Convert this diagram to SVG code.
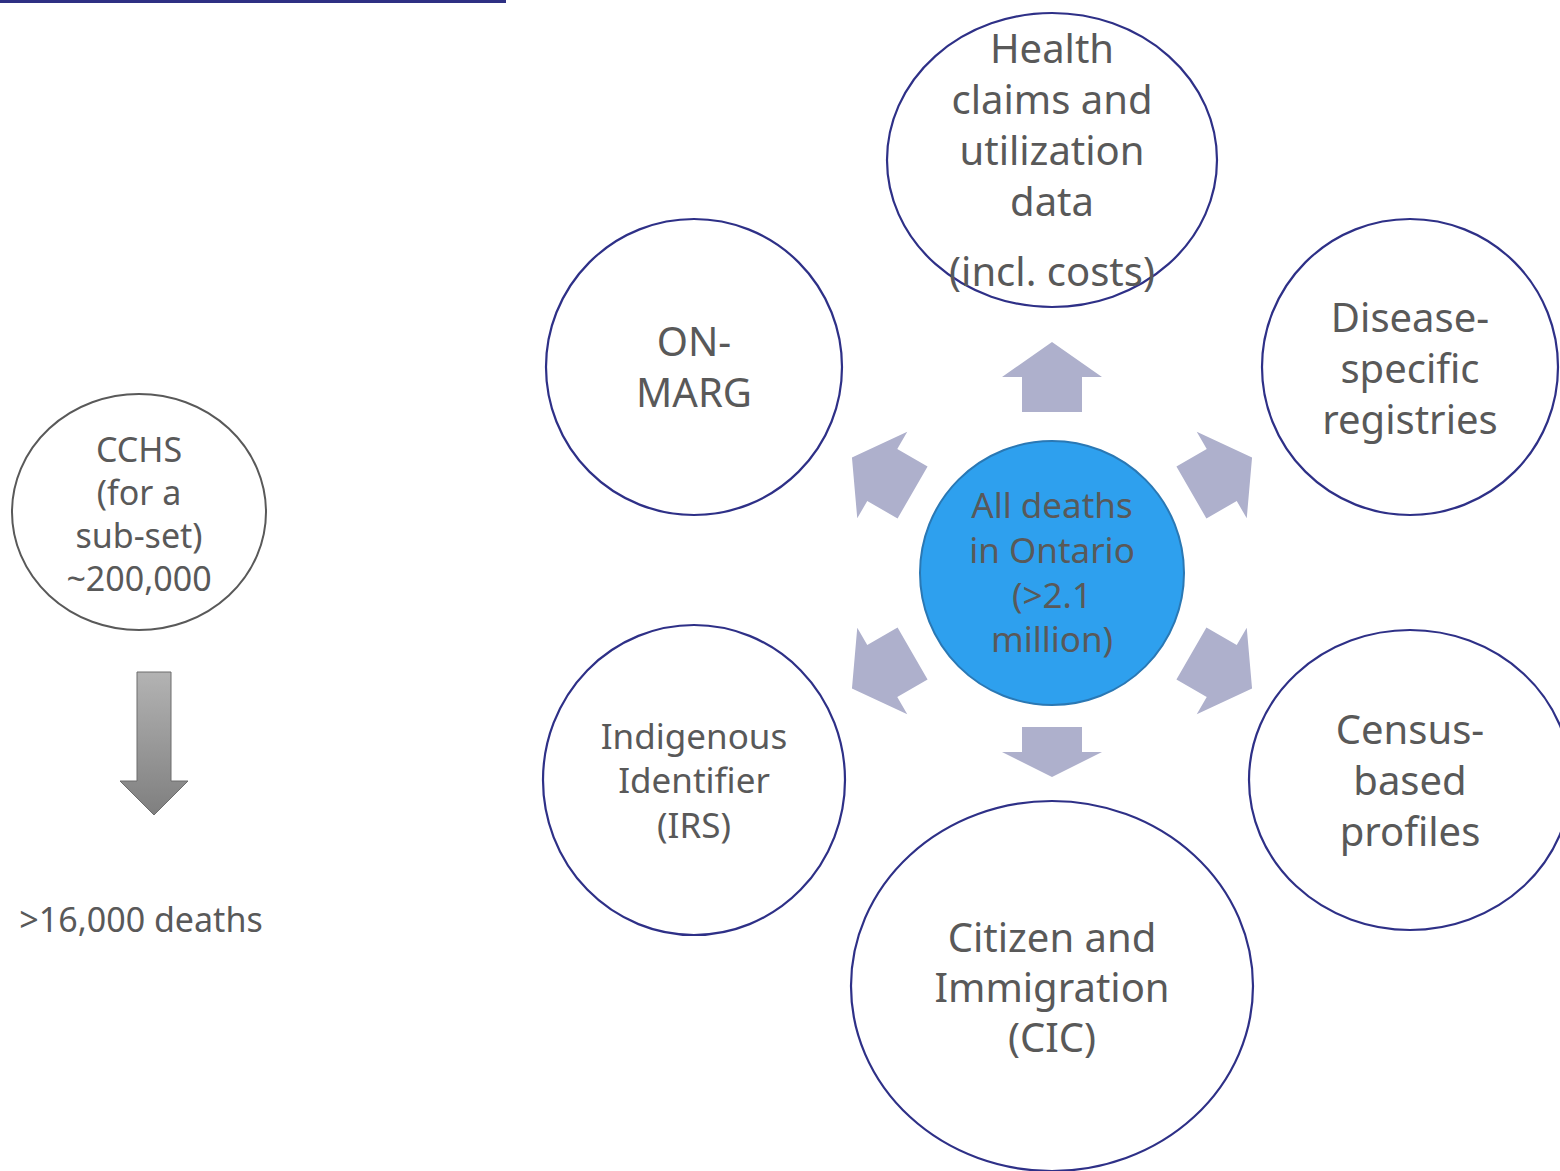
<svg xmlns="http://www.w3.org/2000/svg" width="1560" height="1171" viewBox="0 0 1560 1171">
  <style>
    .node { fill: #ffffff; stroke: #2e3087; stroke-width: 2.2; }
    .lbl { font-family: "Noto Sans", "Open Sans", "DejaVu Sans", sans-serif; fill: #595959; text-anchor: middle; }
    .big { font-size: 40px; }
    .mid { font-size: 35px; }
    .sm { font-size: 34px; }
    .flow { fill: #aeb0cc; }
  </style>
  <defs>
    <linearGradient id="grayGrad" x1="0" y1="0" x2="0" y2="1">
      <stop offset="0" stop-color="#b3b3b3"/>
      <stop offset="1" stop-color="#7f7f7f"/>
    </linearGradient>
    <polygon id="upArrow" points="0,-231 50,-196 30,-196 30,-161 -30,-161 -30,-196 -50,-196"/>
  </defs>
  <rect width="1560" height="1171" fill="#ffffff"/>
  <rect x="0" y="0" width="506" height="3" fill="#2e3083"/>

  <g id="connectors">
    <g transform="translate(1052,573)">
      <use href="#upArrow" class="flow"/>
      <use href="#upArrow" class="flow" transform="rotate(60)"/>
      <use href="#upArrow" class="flow" transform="rotate(120)"/>
      <use href="#upArrow" class="flow" transform="rotate(-60)"/>
      <use href="#upArrow" class="flow" transform="rotate(-120)"/>
      <polygon class="flow" points="0,204 50,179 30,179 30,154 -30,154 -30,179 -50,179"/>
    </g>
    <polygon points="137,672 171,672 171,781 188,781 154,815 120,781 137,781" fill="url(#grayGrad)" stroke="#6d6d6d" stroke-width="1"/>
  </g>

  <g id="center">
    <circle cx="1052" cy="573" r="132" fill="#2ea0ee" stroke="#2a78b4" stroke-width="2"/>
    <text class="lbl mid"><tspan x="1052" y="518">All deaths</tspan><tspan x="1052" y="563">in Ontario</tspan><tspan x="1052" y="608">(&gt;2.1</tspan><tspan x="1052" y="652">million)</tspan></text>
  </g>

  <g id="health">
    <ellipse class="node" cx="1052" cy="160" rx="165" ry="147"/>
    <text class="lbl big"><tspan x="1052" y="63">Health</tspan><tspan x="1052" y="114">claims and</tspan><tspan x="1052" y="165">utilization</tspan><tspan x="1052" y="216">data</tspan><tspan x="1052" y="286">(incl. costs)</tspan></text>
  </g>

  <g id="onmarg">
    <ellipse class="node" cx="694" cy="367" rx="148" ry="148"/>
    <text class="lbl big"><tspan x="694" y="356">ON-</tspan><tspan x="694" y="407">MARG</tspan></text>
  </g>

  <g id="disease">
    <ellipse class="node" cx="1410" cy="367" rx="148" ry="148"/>
    <text class="lbl big"><tspan x="1410" y="332">Disease-</tspan><tspan x="1410" y="383">specific</tspan><tspan x="1410" y="434">registries</tspan></text>
  </g>

  <g id="indigenous">
    <ellipse class="node" cx="694" cy="780" rx="151" ry="155"/>
    <text class="lbl mid"><tspan x="694" y="749">Indigenous</tspan><tspan x="694" y="793">Identifier</tspan><tspan x="694" y="838">(IRS)</tspan></text>
  </g>

  <g id="census">
    <ellipse class="node" cx="1410" cy="780" rx="161" ry="150"/>
    <text class="lbl big"><tspan x="1410" y="744">Census-</tspan><tspan x="1410" y="795">based</tspan><tspan x="1410" y="846">profiles</tspan></text>
  </g>

  <g id="citizen">
    <ellipse class="node" cx="1052" cy="986" rx="201" ry="185"/>
    <text class="lbl big"><tspan x="1052" y="952">Citizen and</tspan><tspan x="1052" y="1002">Immigration</tspan><tspan x="1052" y="1052">(CIC)</tspan></text>
  </g>

  <g id="cchs">
    <ellipse cx="139" cy="512" rx="127" ry="118" fill="#ffffff" stroke="#595959" stroke-width="2"/>
    <text class="lbl sm"><tspan x="139" y="462">CCHS</tspan><tspan x="139" y="505">(for a</tspan><tspan x="139" y="548">sub-set)</tspan><tspan x="139" y="591">~200,000</tspan></text>
  </g>

  <g id="deaths-label">
    <text class="lbl sm" x="141" y="932">&gt;16,000 deaths</text>
  </g>
</svg>
